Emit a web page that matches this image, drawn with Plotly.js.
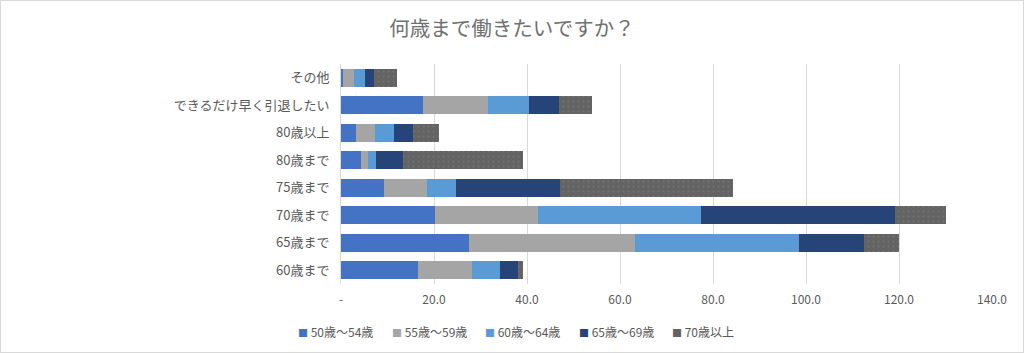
<!DOCTYPE html>
<html><head><meta charset="utf-8">
<script src="https://cdn.plot.ly/plotly-3.0.1.min.js"></script>
<style>html,body{margin:0;padding:0;background:#fff}#c{width:1024px;height:353px;box-sizing:border-box;border:1px solid #d9d9d9}</style>
</head><body><div id="c"></div>
<script>
const categories = ["60歳まで","65歳まで","70歳まで","75歳まで","80歳まで","80歳以上","できるだけ早く引退したい","その他"];
const seriesNames = ["50歳～54歳","55歳～59歳","60歳～64歳","65歳～69歳","70歳以上"];
const s50 = [16.5, 27.5, 20.3, 9.3, 4.3, 3.2, 17.6, 0.4];
const s55 = [11.7, 35.7, 22.1, 9.2, 1.5, 4.1, 14.0, 2.3];
const s60 = [5.9, 35.4, 35.1, 6.3, 1.8, 4.1, 8.9, 2.5];
const s65 = [3.9, 13.9, 41.6, 22.4, 5.8, 4.0, 6.3, 2.0];
const s70 = [1.1, 7.6, 11.0, 37.2, 25.8, 5.6, 7.2, 4.8];
const tickVals = [0, 20, 40, 60, 80, 100, 120, 140];
const tickText = ["-", "20.0", "40.0", "60.0", "80.0", "100.0", "120.0", "140.0"];

const colors = ["#4472C4","#A5A5A5","#5B9BD5","#264478","#636363"];
const allSeries = [s50, s55, s60, s65, s70];
const traces = allSeries.map((vals, i) => {
  const m = {color: colors[i], line: {width: 0}};
  if (i === 4) m.pattern = {shape: ".", fgcolor: "#727272", bgcolor: "#636363", size: 5, solidity: 0.15, fillmode: "replace"};
  return {type: "bar", orientation: "h", name: seriesNames[i], y: categories, x: vals, marker: m, hoverinfo: "x+name", showlegend: false};
});
const font = "'Noto Sans CJK JP', 'Noto Sans', sans-serif";

// custom legend laid out like the original (small square + label)
const plotLeft = 340, plotW = 651, plotTop = 63, plotH = 220;
const legendStartPx = 295, legendStepPx = 93.5, legendYPx = 330;
const annotations = seriesNames.map((n, i) => ({
  xref: "paper", yref: "paper",
  x: (legendStartPx + i * legendStepPx - plotLeft) / plotW,
  y: -(legendYPx - (plotTop + plotH)) / plotH,
  xanchor: "left", yanchor: "middle", showarrow: false,
  text: '<span style="color:' + colors[i] + ';font-size:10px">■</span> ' + n,
  font: {size: 12, color: "#595959", family: font}
}));

Plotly.newPlot("c", traces, {
  width: 1022, height: 351,
  barmode: "stack", bargap: 0.33,
  paper_bgcolor: "#fff", plot_bgcolor: "#fff",
  font: {family: font, color: "#595959", size: 12},
  title: {text: "何歳まで働きたいですか？", x: 0.5, xanchor: "center", xref: "container", y: 0.92, yanchor: "middle", font: {size: 20.5, color: "#707070", family: font}},
  margin: {l: plotLeft, r: 1022 - plotLeft - plotW, t: plotTop, b: 351 - plotTop - plotH},
  xaxis: {range: [0, 140], tickvals: tickVals, ticktext: tickText, showgrid: true, gridcolor: "#d9d9d9", gridwidth: 1, zeroline: false, showline: false, ticks: "", ticklabelstandoff: 7, tickfont: {size: 12, color: "#595959"}, fixedrange: true, automargin: false},
  yaxis: {type: "category", showgrid: false, zeroline: false, showline: true, linecolor: "#d9d9d9", ticks: "", ticklabelstandoff: 8, tickfont: {size: 13, color: "#595959"}, fixedrange: true, automargin: false},
  annotations: annotations,
  showlegend: false
}, {displayModeBar: false, staticPlot: true});
</script></body></html>
